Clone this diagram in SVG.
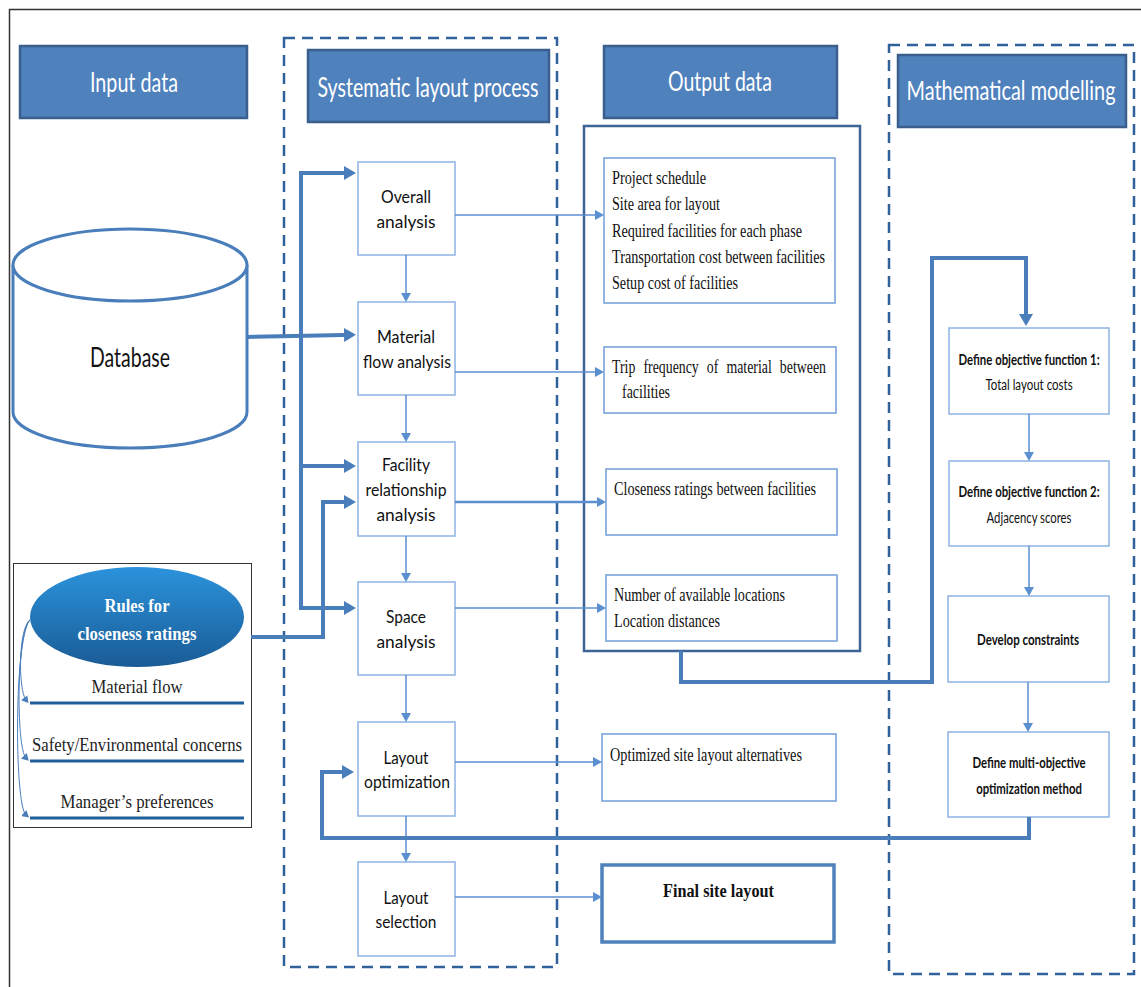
<svg xmlns="http://www.w3.org/2000/svg" width="1141" height="987" viewBox="0 0 1141 987">
<defs>
<style>
.hdr{fill:#4f81bd;stroke:#3b5f8c;stroke-width:2.5}
.htx{font-family:Lato,"Open Sans",sans-serif;font-size:27px;fill:#fff;text-anchor:middle}
.dash{fill:none;stroke:#31619a;stroke-width:2.5;stroke-dasharray:11 7}
.pbox{fill:#fff;stroke:#8db3e2;stroke-width:1.5}
.obox{fill:#fff;stroke:#6f9fd8;stroke-width:1.5}
.ptx{font-family:Lato,"Open Sans",sans-serif;font-size:17px;fill:#111;text-anchor:middle}
.mtx{font-family:Lato,"Open Sans",sans-serif;font-size:16px;fill:#111;text-anchor:middle}
.mtb{font-family:Lato,"Open Sans",sans-serif;font-size:16px;fill:#111;text-anchor:middle;font-weight:bold}
.otx{font-family:"Liberation Serif","Times New Roman",serif;font-size:18px;fill:#111}
.thin{fill:none;stroke:#5b8fd0;stroke-width:1.5}
.thick{fill:none;stroke:#4a7ebb;stroke-width:4}
.rtx{font-family:"Liberation Serif","Times New Roman",serif;font-size:19px;fill:#222;text-anchor:middle}
</style>
<marker id="at" markerUnits="userSpaceOnUse" markerWidth="9" markerHeight="10" refX="0" refY="5" orient="auto"><path d="M0,0 L9,5 L0,10 z" fill="#5b8fd0"/></marker>
<marker id="ak" markerUnits="userSpaceOnUse" markerWidth="12" markerHeight="14" refX="0" refY="7" orient="auto"><path d="M0,0 L12,7 L0,14 z" fill="#4a7ebb"/></marker>
<marker id="as" markerUnits="userSpaceOnUse" markerWidth="7" markerHeight="8" refX="3" refY="4" orient="auto"><path d="M0,0 L7,4 L0,8 z" fill="#4a7ebb"/></marker>
<linearGradient id="eg" x1="0" y1="0" x2="0" y2="1">
<stop offset="0" stop-color="#2b93dc"/>
<stop offset="1" stop-color="#1a5b96"/>
</linearGradient>
</defs>
<rect width="1141" height="987" fill="#fff"/>
<path d="M9.5,987 L9.5,9.5 L1141,9.5" fill="none" stroke="#333" stroke-width="1.5"/>

<g id="frames">
<rect class="dash" x="284" y="38" width="273" height="929"/>
<rect class="dash" x="889" y="45" width="245" height="929"/>
</g>

<g id="hdr-input"><rect class="hdr" x="20" y="46" width="227" height="72"/><text class="htx" x="134" y="92" textLength="88" lengthAdjust="spacingAndGlyphs">Input data</text></g>
<g id="hdr-sys"><rect class="hdr" x="308" y="50" width="241" height="72"/><text class="htx" x="428" y="97" textLength="221" lengthAdjust="spacingAndGlyphs">Systematic layout process</text></g>
<g id="hdr-out"><rect class="hdr" x="604" y="46" width="233" height="72"/><text class="htx" x="720" y="91" textLength="104" lengthAdjust="spacingAndGlyphs">Output data</text></g>
<g id="hdr-math"><rect class="hdr" x="898" y="55" width="228" height="72"/><text class="htx" transform="translate(1011,100) scale(0.78,1)" x="0" y="0" textLength="268" lengthAdjust="spacingAndGlyphs">Mathematical modelling</text></g>

<g id="database">
<path d="M13,265 L13,412 A117,36 0 0 0 247,412 L247,265" fill="#fff" stroke="#4a7ebb" stroke-width="3"/>
<ellipse cx="130" cy="265" rx="117" ry="36" fill="#fff" stroke="#4a7ebb" stroke-width="3"/>
<text x="130" y="367" font-family="Lato,'Open Sans',sans-serif" font-size="27" fill="#111" text-anchor="middle" textLength="80" lengthAdjust="spacingAndGlyphs">Database</text>
</g>

<g id="rules">
<rect x="13.5" y="563.5" width="238" height="264" fill="#fff" stroke="#333" stroke-width="1"/>
<ellipse cx="137" cy="617" rx="107" ry="50" fill="url(#eg)"/>
<text x="137" y="612" font-family="'Liberation Serif','Times New Roman',serif" font-size="19" font-weight="bold" fill="#fff" text-anchor="middle" textLength="65" lengthAdjust="spacingAndGlyphs">Rules for</text>
<text x="137" y="640" font-family="'Liberation Serif','Times New Roman',serif" font-size="19" font-weight="bold" fill="#fff" text-anchor="middle" textLength="119" lengthAdjust="spacingAndGlyphs">closeness ratings</text>
<line x1="30" y1="703" x2="244" y2="703" stroke="#1f5f9a" stroke-width="3"/>
<line x1="30" y1="761" x2="244" y2="761" stroke="#1f5f9a" stroke-width="3"/>
<line x1="30" y1="818" x2="244" y2="818" stroke="#1f5f9a" stroke-width="3"/>
<text class="rtx" x="137" y="693" textLength="91" lengthAdjust="spacingAndGlyphs">Material flow</text>
<text class="rtx" x="137" y="751" textLength="210" lengthAdjust="spacingAndGlyphs">Safety/Environmental concerns</text>
<text class="rtx" x="137" y="808" textLength="153" lengthAdjust="spacingAndGlyphs">Manager’s preferences</text>
<path d="M31,619 C18,626 18,690 26,700" fill="none" stroke="#4a7ebb" stroke-width="1" marker-end="url(#as)"/>
<path d="M31,619 C16,628 16,748 26,758" fill="none" stroke="#4a7ebb" stroke-width="1" marker-end="url(#as)"/>
<path d="M31,619 C14,630 14,805 26,815" fill="none" stroke="#4a7ebb" stroke-width="1" marker-end="url(#as)"/>
</g>

<g id="overall"><rect class="pbox" x="358" y="162" width="97" height="93"/><text class="ptx" x="406" y="203" textLength="50" lengthAdjust="spacingAndGlyphs">Overall</text><text class="ptx" x="406" y="228" textLength="59" lengthAdjust="spacingAndGlyphs">analysis</text></g>
<g id="material"><rect class="pbox" x="358" y="302" width="97" height="93"/><text class="ptx" x="406" y="343" textLength="58" lengthAdjust="spacingAndGlyphs">Material</text><text class="ptx" x="407" y="368" textLength="88" lengthAdjust="spacingAndGlyphs">flow analysis</text></g>
<g id="facility"><rect class="pbox" x="358" y="442" width="97" height="94"/><text class="ptx" x="406" y="471" textLength="48" lengthAdjust="spacingAndGlyphs">Facility</text><text class="ptx" x="406" y="496" textLength="81" lengthAdjust="spacingAndGlyphs">relationship</text><text class="ptx" x="406" y="521" textLength="59" lengthAdjust="spacingAndGlyphs">analysis</text></g>
<g id="space"><rect class="pbox" x="358" y="582" width="97" height="93"/><text class="ptx" x="406" y="623" textLength="40" lengthAdjust="spacingAndGlyphs">Space</text><text class="ptx" x="406" y="648" textLength="59" lengthAdjust="spacingAndGlyphs">analysis</text></g>
<g id="layoutopt"><rect class="pbox" x="358" y="722" width="97" height="94"/><text class="ptx" x="406" y="764" textLength="45" lengthAdjust="spacingAndGlyphs">Layout</text><text class="ptx" x="407" y="788" textLength="86" lengthAdjust="spacingAndGlyphs">optimization</text></g>
<g id="layoutsel"><rect class="pbox" x="358" y="862" width="97" height="94"/><text class="ptx" x="406" y="904" textLength="45" lengthAdjust="spacingAndGlyphs">Layout</text><text class="ptx" x="406" y="928" textLength="61" lengthAdjust="spacingAndGlyphs">selection</text></g>

<g id="output-frame"><rect x="584" y="126" width="276" height="525" fill="none" stroke="#3d6497" stroke-width="2.5"/></g>
<g id="out1"><rect class="obox" x="604" y="158" width="231" height="145"/>
<text class="otx" x="612" y="184" textLength="94" lengthAdjust="spacingAndGlyphs">Project schedule</text>
<text class="otx" x="612" y="210" textLength="108" lengthAdjust="spacingAndGlyphs">Site area for layout</text>
<text class="otx" x="612" y="237" textLength="190" lengthAdjust="spacingAndGlyphs">Required facilities for each phase</text>
<text class="otx" x="612" y="263" textLength="213" lengthAdjust="spacingAndGlyphs">Transportation cost between facilities</text>
<text class="otx" x="612" y="289" textLength="126" lengthAdjust="spacingAndGlyphs">Setup cost of facilities</text></g>
<g id="out2"><rect class="obox" x="604" y="347" width="232" height="66"/>
<text class="otx" x="612" y="373" textLength="214" lengthAdjust="spacingAndGlyphs" word-spacing="6">Trip frequency of material between</text>
<text class="otx" x="622" y="398" textLength="48" lengthAdjust="spacingAndGlyphs">facilities</text></g>
<g id="out3"><rect class="obox" x="606" y="469" width="231" height="66"/>
<text class="otx" x="614" y="495" textLength="202" lengthAdjust="spacingAndGlyphs">Closeness ratings between facilities</text></g>
<g id="out4"><rect class="obox" x="606" y="575" width="231" height="66"/>
<text class="otx" x="614" y="601" textLength="171" lengthAdjust="spacingAndGlyphs">Number of available locations</text>
<text class="otx" x="614" y="627" textLength="106" lengthAdjust="spacingAndGlyphs">Location distances</text></g>
<g id="out5"><rect class="obox" x="602" y="734" width="234" height="67"/>
<text class="otx" x="610" y="761" textLength="192" lengthAdjust="spacingAndGlyphs">Optimized site layout alternatives</text></g>
<g id="out6"><rect x="602" y="865" width="232" height="77" fill="#fff" stroke="#4f81bd" stroke-width="3.5"/>
<text class="otx" x="663" y="897" font-weight="bold" textLength="111" lengthAdjust="spacingAndGlyphs">Final site layout</text></g>

<g id="m1"><rect class="pbox" x="949" y="328" width="160" height="86"/><text class="mtb" transform="translate(1029,365) scale(0.72,1)" x="0" y="0" textLength="196" lengthAdjust="spacingAndGlyphs">Define objective function 1:</text><text class="mtx" transform="translate(1029,390) scale(0.8,1)" x="0" y="0" textLength="109" lengthAdjust="spacingAndGlyphs">Total layout costs</text></g>
<g id="m2"><rect class="pbox" x="949" y="461" width="160" height="85"/><text class="mtb" transform="translate(1029,497) scale(0.72,1)" x="0" y="0" textLength="196" lengthAdjust="spacingAndGlyphs">Define objective function 2:</text><text class="mtx" transform="translate(1029,523) scale(0.8,1)" x="0" y="0" textLength="106" lengthAdjust="spacingAndGlyphs">Adjacency scores</text></g>
<g id="m3"><rect class="pbox" x="948" y="596" width="161" height="86"/><text class="mtb" transform="translate(1028,645) scale(0.75,1)" x="0" y="0" textLength="136" lengthAdjust="spacingAndGlyphs">Develop constraints</text></g>
<g id="m4"><rect class="pbox" x="948" y="732" width="161" height="85"/><text class="mtb" transform="translate(1029,768) scale(0.75,1)" x="0" y="0" textLength="151" lengthAdjust="spacingAndGlyphs">Define multi-objective</text><text class="mtb" transform="translate(1029,794) scale(0.75,1)" x="0" y="0" textLength="141" lengthAdjust="spacingAndGlyphs">optimization method</text></g>

<g id="connectors">
<line class="thin" x1="406" y1="255" x2="406" y2="293" marker-end="url(#at)"/>
<line class="thin" x1="406" y1="395" x2="406" y2="433" marker-end="url(#at)"/>
<line class="thin" x1="406" y1="536" x2="406" y2="573" marker-end="url(#at)"/>
<line class="thin" x1="406" y1="675" x2="406" y2="713" marker-end="url(#at)"/>
<line class="thin" x1="406" y1="816" x2="406" y2="853" marker-end="url(#at)"/>
<line class="thin" x1="455" y1="215" x2="595" y2="215" marker-end="url(#at)"/>
<line class="thin" x1="455" y1="372" x2="595" y2="372" marker-end="url(#at)"/>
<line class="thin" x1="455" y1="502" x2="597" y2="502" style="stroke-width:2.5" marker-end="url(#at)"/>
<line class="thin" x1="455" y1="608" x2="597" y2="608" marker-end="url(#at)"/>
<line class="thin" x1="455" y1="762" x2="593" y2="762" marker-end="url(#at)"/>
<line class="thin" x1="455" y1="897" x2="593" y2="897" marker-end="url(#at)"/>
<line class="thin" x1="1029" y1="414" x2="1029" y2="452" marker-end="url(#at)"/>
<line class="thin" x1="1029" y1="546" x2="1029" y2="587" marker-end="url(#at)"/>
<line class="thin" x1="1028" y1="682" x2="1028" y2="723" marker-end="url(#at)"/>
<path class="thick" d="M301,171 L301,610"/>
<path class="thick" d="M301,173 L344,173" marker-end="url(#ak)"/>
<path class="thick" d="M301,466 L344,466" marker-end="url(#ak)"/>
<path class="thick" d="M301,608 L344,608" marker-end="url(#ak)"/>
<path class="thick" d="M247,337 L344,335" marker-end="url(#ak)"/>
<path class="thick" d="M251,637 L323,637 L323,502 L344,502" marker-end="url(#ak)"/>
<path class="thick" d="M681,651 L681,682 L932,682 L932,258 L1026,258 L1026,314" marker-end="url(#ak)"/>
<path class="thick" d="M1029,817 L1029,838 L322,838 L322,772 L342,772" marker-end="url(#ak)"/>
</g>
</svg>
